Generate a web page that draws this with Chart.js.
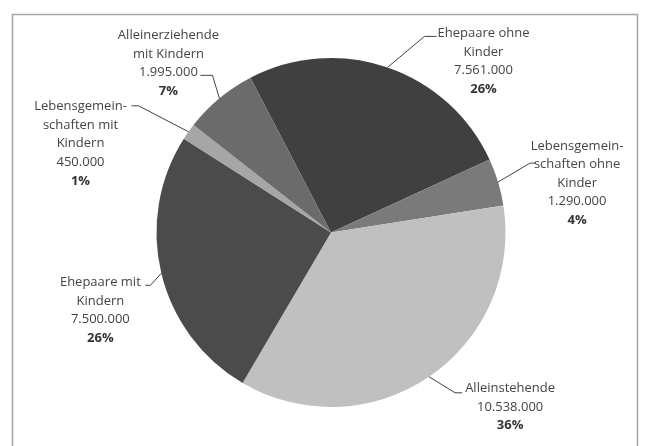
<!DOCTYPE html>
<html>
<head>
<meta charset="utf-8">
<script src="https://cdn.jsdelivr.net/npm/chart.js@4"></script>
<style>
  html, body { margin: 0; padding: 0; background: #fff; }
  #wrap { width: 645px; height: 446px; position: relative; }
</style>
</head>
<body>
<div id="wrap"><canvas id="myChart"></canvas></div>
<script>
// data
const categories = [
    ['Ehepaare ohne', 'Kinder'],
    ['Lebensgemein-', 'schaften ohne', 'Kinder'],
    ['Alleinstehende'],
    ['Ehepaare mit', 'Kindern'],
    ['Lebensgemein-', 'schaften mit', 'Kindern'],
    ['Alleinerziehende', 'mit Kindern']
];
const households = [7561000, 1290000, 10538000, 7500000, 450000, 1995000];
const percents = ['26%', '4%', '36%', '26%', '1%', '7%'];

const sliceColors = ['#404040', '#7a7a7a', '#c0c0c0', '#4b4b4b', '#a6a6a6', '#6b6b6b'];

// label placement relative to the slice edge point: text centre, elbow, line end
const labelPos = [
    { dx: 96, dy: -6, ex: 37, ey: -31, hx: 49 },
    { dx: 79, dy: 1, ex: 32, ey: -19, hx: 38 },
    { dx: 81, dy: 30, ex: 26, ey: 16, hx: 33 },
    { dx: -61, dy: 37, ex: -11, ey: 12, hx: -16 },
    { dx: -108, dy: 12, ex: -50, ey: -26, hx: -57 },
    { dx: -51, dy: -35, ex: -7, ey: -23, hx: -19 }
];

function fmt(n) {
    return n.toString().replace(/\B(?=(\d{3})+(?!\d))/g, '.');
}

const frame = {
    id: 'frame',
    beforeDraw(chart) {
        let c = chart.ctx;
        c.save();
        c.strokeStyle = '#a3a3a3';
        c.lineWidth = 1.5;
        c.strokeRect(12.5, 14.5, 625, 460);
        c.restore();
    }
};

const pieLabels = {
    id: 'pieLabels',
    afterDraw(chart) {
        let c = chart.ctx;
        let arcs = chart.getDatasetMeta(0).data;
        c.save();
        arcs.forEach((arc, i) => {
            let mid = (arc.startAngle + arc.endAngle) / 2;
            let ax = arc.x + Math.cos(mid) * arc.outerRadius;
            let ay = arc.y + Math.sin(mid) * arc.outerRadius;
            let p = labelPos[i];

            c.strokeStyle = '#404040';
            c.lineWidth = 1;
            c.beginPath();
            c.moveTo(ax, ay);
            c.lineTo(ax + p.ex, ay + p.ey);
            c.lineTo(ax + p.hx, ay + p.ey);
            c.stroke();

            let lines = categories[i].concat([fmt(households[i])]);
            let all = lines.length + 1;
            let lh = 18.6;
            let tx = ax + p.dx;
            let ty = ay + p.dy - (all - 1) * lh / 2;
            c.textAlign = 'center';
            c.textBaseline = 'middle';
            c.fillStyle = '#444';
            c.font = '13px "Open Sans"';
            lines.forEach((t, k) => c.fillText(t, tx, ty + k * lh));
            c.font = 'bold 13px "Open Sans"';
            c.fillStyle = '#333';
            c.fillText(percents[i], tx, ty + lines.length * lh);
        });
        c.restore();
    }
};

new Chart(document.getElementById('myChart'), {
    type: 'pie',
    data: {
        labels: categories.map(l => l.join(' ')),
        datasets: [{
            data: households,
            backgroundColor: sliceColors,
            borderWidth: 0
        }]
    },
    options: {
        responsive: true,
        maintainAspectRatio: false,
        animation: false,
        rotation: -27.5,
        layout: { padding: { left: 156.5, right: 139.5, top: 58, bottom: 39 } },
        plugins: {
            legend: { display: false },
            tooltip: { enabled: false }
        }
    },
    plugins: [frame, pieLabels]
});
</script>
</body>
</html>
